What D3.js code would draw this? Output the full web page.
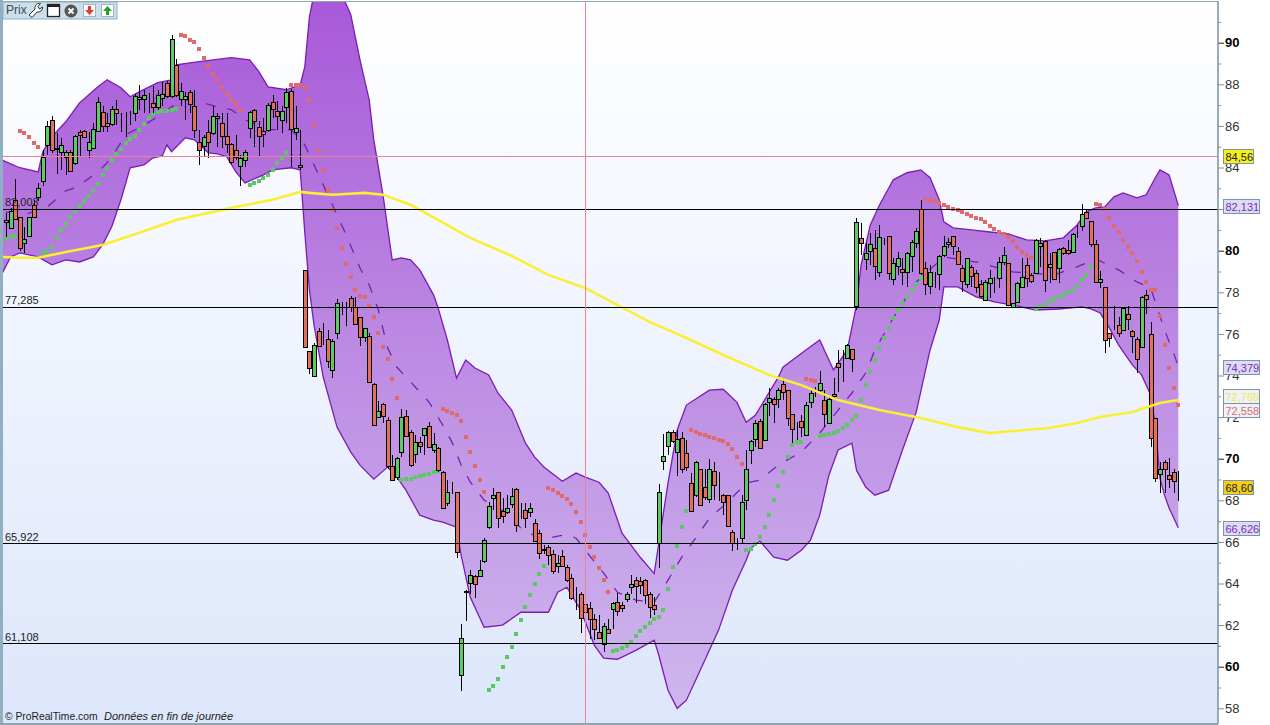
<!DOCTYPE html>
<html>
<head>
<meta charset="utf-8">
<style>
  html, body { margin: 0; padding: 0; background: #fff; }
  svg { display: block; font-family: "Liberation Sans", Arial, sans-serif; }
</style>
</head>
<body>
<svg width="1270" height="725"></svg>
<script src="https://cdn.jsdelivr.net/npm/d3@7"></script>
<script>
// daily candles
const opens = [81.43,81.08,82.40,81.56,80.31,80.63,82.16,82.52,83.28,85.07,
  86.25,84.91,84.67,84.48,84.72,84.16,85.64,85.70,84.83,84.91,
  85.72,86.61,86.09,86.02,86.76,86.44,86.44,86.05,86.57,87.21,
  87.24,86.92,87.05,86.84,87.30,88.01,87.37,88.88,87.24,87.21,
  87.59,86.89,85.20,84.99,85.64,85.65,86.42,86.09,85.48,85.07,
  84.77,84.05,84.35,85.84,86.71,85.92,85.73,85.76,87.08,86.69,
  86.28,86.82,87.64,85.67,84.05,79.03,75.11,73.90,76.09,75.95,
  75.69,74.19,75.97,77.31,77.02,77.68,77.26,76.77,75.79,75.85,
  73.54,71.94,72.56,71.79,69.60,69.05,70.24,72.00,71.22,70.21,
  70.74,71.07,71.52,70.35,70.45,69.32,67.84,68.60,68.33,59.57,
  63.59,63.98,64.32,64.32,64.99,66.67,68.07,68.36,67.44,67.36,
  67.76,68.50,67.23,67.49,67.36,66.88,66.40,65.61,65.73,65.39,
  64.80,65.29,64.75,64.24,62.98,63.47,62.98,62.79,62.26,61.64,
  61.06,61.78,62.73,63.08,62.94,63.21,63.80,64.14,64.06,64.14,
  63.45,62.90,65.90,69.81,70.54,71.22,70.30,70.93,70.21,68.79,
  68.17,69.48,68.60,67.99,69.34,68.70,68.23,68.23,66.41,65.99,
  66.15,68.00,70.33,70.88,71.76,70.83,72.66,72.81,72.81,73.53,
  73.25,72.08,71.43,71.76,71.10,72.66,73.17,73.22,72.77,71.65,
  73.05,74.54,74.67,74.83,75.23,77.27,80.54,79.59,79.91,80.07,
  78.92,80.39,80.65,78.63,79.24,79.06,78.92,79.67,80.35,81.95,
  79.14,78.28,78.74,78.81,79.77,80.27,80.65,79.94,79.11,78.34,
  79.16,78.90,78.34,77.59,78.39,78.52,78.63,79.40,79.35,77.23,
  77.51,78.23,79.27,78.77,78.90,80.15,80.44,79.14,79.88,79.11,
  80.07,79.99,79.88,80.76,81.12,81.81,81.40,80.27,78.44,78.20,
  75.98,76.54,76.40,76.11,76.93,76.08,75.73,75.34,77.84,75.93,
  71.89,69.25,69.77,69.15,69.33,68.57];
const closes = [81.34,81.88,81.51,80.07,80.50,81.56,81.56,82.96,84.45,85.96,
  84.83,84.87,85.03,84.71,83.81,85.48,85.48,85.41,85.20,85.80,
  87.11,85.92,85.96,86.76,86.57,86.44,86.44,86.05,87.37,87.32,
  87.43,86.92,86.86,87.42,87.48,87.37,90.13,87.42,87.61,87.37,
  87.00,85.76,84.80,85.44,85.15,86.45,86.33,85.48,85.09,84.19,
  84.45,84.43,84.72,86.60,86.18,85.48,85.60,86.98,86.73,86.44,
  86.69,87.56,85.80,85.86,83.97,75.34,74.30,75.40,75.39,75.95,
  74.62,75.60,77.42,77.31,77.02,77.25,76.43,75.79,76.22,73.64,
  71.55,72.23,71.97,69.56,68.91,69.97,71.94,71.06,69.61,70.77,
  70.56,71.41,70.50,70.64,69.40,67.60,68.36,68.60,65.44,61.35,
  63.53,64.36,63.95,64.62,66.02,67.70,68.21,67.12,67.19,67.56,
  68.16,66.79,67.23,67.12,67.56,66.00,65.44,65.55,65.34,64.56,
  64.96,64.80,64.14,63.30,62.98,62.34,62.58,62.28,61.77,61.35,
  61.93,61.57,63.02,62.63,62.78,63.47,63.93,63.87,63.85,63.43,
  62.82,62.70,68.33,70.06,71.22,70.77,70.91,69.44,69.52,67.42,
  69.77,67.75,68.12,69.44,68.67,68.70,67.90,66.73,65.88,65.99,
  67.88,69.48,70.78,71.65,70.48,72.56,72.85,72.56,73.24,73.14,
  71.89,71.36,71.43,71.46,72.52,73.11,73.17,73.57,72.08,72.80,
  72.93,74.33,74.67,75.44,74.73,81.32,80.31,79.86,80.27,79.22,
  80.60,80.39,78.87,79.38,79.62,78.92,79.83,80.36,80.92,78.87,
  78.39,78.95,78.74,79.69,80.19,80.36,80.15,79.33,78.49,79.58,
  78.71,78.23,77.75,78.45,78.63,78.52,79.40,79.74,77.35,77.43,
  78.42,78.71,78.63,78.47,80.47,80.31,78.55,79.30,78.58,80.03,
  79.83,79.83,80.75,80.76,81.71,81.52,80.31,78.44,78.58,75.66,
  75.76,76.54,76.03,77.19,76.70,75.85,74.78,77.75,77.67,70.93,
  69.01,69.47,69.44,68.96,68.91,68.57];
const highs = [81.75,81.99,83.41,81.59,81.11,81.59,82.40,83.20,84.77,86.17,
  86.41,85.60,85.36,84.80,84.80,85.52,85.76,85.76,85.68,86.09,
  87.32,86.89,86.57,86.92,87.21,86.57,86.60,86.65,87.48,87.93,
  87.69,87.53,87.88,87.69,88.04,88.09,90.34,89.17,88.01,87.56,
  87.69,87.69,85.76,85.52,86.25,86.89,86.57,86.57,86.57,85.12,
  85.52,84.56,84.80,86.65,86.76,86.17,86.33,87.05,87.45,87.13,
  86.89,87.77,87.72,86.89,85.76,79.03,75.11,75.50,76.22,76.46,
  76.14,75.69,77.62,77.50,77.50,77.78,77.71,76.78,76.22,76.01,
  73.61,72.72,72.61,71.94,70.13,70.05,72.32,72.29,71.33,71.09,
  71.01,71.41,71.70,71.17,70.53,69.36,68.92,68.84,68.36,61.99,
  63.63,64.62,64.35,65.10,66.16,67.88,68.52,68.36,68.04,68.20,
  68.52,68.52,67.80,67.80,67.84,67.07,66.51,65.79,65.79,65.55,
  65.31,65.55,64.83,64.43,63.79,63.55,63.14,63.06,62.50,62.42,
  62.05,62.26,63.06,63.50,63.06,63.55,64.38,64.27,64.27,64.19,
  63.55,63.30,68.73,71.14,71.30,71.33,71.33,71.25,70.85,69.28,
  69.85,69.48,69.48,69.93,69.81,69.32,68.25,68.23,66.52,66.12,
  68.20,70.37,70.85,71.81,71.84,72.61,73.37,72.93,73.33,73.82,
  73.25,72.10,71.73,72.05,72.69,73.25,73.41,74.17,73.25,72.90,
  73.85,75.18,75.18,75.47,75.23,81.52,81.28,80.31,80.79,80.96,
  81.20,80.55,80.67,79.59,79.91,79.59,79.91,80.47,81.04,82.40,
  79.43,79.27,78.95,79.75,80.67,80.55,80.67,80.15,79.27,79.59,
  79.27,79.03,78.55,78.55,79.03,78.68,79.67,80.15,79.35,77.43,
  78.47,79.59,79.59,78.90,80.51,80.55,80.47,79.83,79.91,80.07,
  80.12,80.47,80.79,81.20,82.21,81.92,81.40,80.47,78.98,78.20,
  75.98,77.27,76.78,77.23,77.27,76.14,75.82,77.78,78.07,76.51,
  71.92,69.81,69.89,69.97,69.44,69.37];
const lows = [80.60,81.03,81.43,79.96,79.83,80.60,81.51,82.32,83.04,84.56,
  84.64,83.65,83.84,83.60,83.76,84.08,84.48,85.36,84.40,84.88,
  85.68,85.68,85.64,85.96,86.00,85.68,85.44,86.00,86.17,86.73,
  86.57,86.57,86.57,86.73,86.89,87.29,87.29,87.34,86.89,86.25,
  86.57,85.36,84.08,84.48,84.40,85.52,84.96,84.88,84.64,84.13,
  84.32,83.07,84.00,85.36,84.96,84.48,84.96,85.68,86.33,85.76,
  85.60,86.09,84.00,85.28,83.84,75.31,74.02,73.90,75.34,75.42,
  74.33,73.85,75.72,76.86,76.35,77.02,76.38,75.39,75.58,73.61,
  71.52,71.89,71.68,69.48,68.89,68.92,70.05,71.01,69.56,69.73,
  70.24,70.13,70.45,70.21,69.32,67.55,67.67,68.25,65.18,58.78,
  62.15,63.43,63.24,64.32,64.94,66.59,67.48,66.64,66.88,67.31,
  67.60,66.43,67.07,66.64,67.15,65.95,65.15,65.39,64.83,64.40,
  64.46,64.75,64.03,63.18,62.66,61.57,62.18,61.30,61.22,61.30,
  60.66,61.54,61.78,62.37,62.58,63.06,63.43,63.02,63.47,62.98,
  62.29,62.42,64.70,69.40,70.13,70.69,69.13,69.28,69.37,67.40,
  68.12,67.72,67.96,67.83,67.96,67.91,67.24,66.71,65.52,65.55,
  65.84,67.48,69.69,70.53,70.45,70.82,72.00,71.68,72.37,72.77,
  71.52,70.72,70.85,71.01,71.04,72.37,72.93,73.09,71.49,71.65,
  72.77,73.14,73.65,74.78,74.14,77.11,79.75,79.03,79.27,78.55,
  78.71,80.23,78.55,78.31,78.79,78.31,78.23,78.95,80.07,78.79,
  77.83,77.88,78.15,78.07,79.67,80.07,79.75,79.27,77.99,78.15,
  78.23,77.91,77.67,77.51,77.67,77.91,78.15,79.27,77.27,77.23,
  77.43,78.15,78.23,78.39,78.87,79.19,77.99,78.39,78.55,78.39,
  79.75,79.75,79.83,80.55,80.88,81.52,80.15,78.39,78.18,75.05,
  75.34,76.14,75.82,76.08,76.14,75.02,74.06,75.31,76.91,70.53,
  68.84,68.28,68.28,68.52,68.28,67.93];

// parabolic SAR, one dot per day; sarFlips are the days where it changes side
const sarValues = [80.50,80.60,80.66,
  85.73,85.60,85.40,85.15,84.96,
  79.83,79.96,80.15,80.60,80.95,81.24,81.59,81.88,82.11,82.36,82.60,82.84,83.15,83.57,83.95,
  84.29,84.61,84.85,85.15,85.32,85.48,85.76,86.05,86.33,86.54,86.60,86.65,86.68,86.73,86.76,
  90.34,90.29,90.10,89.97,89.66,89.23,88.84,88.46,88.14,87.80,87.48,87.21,87.02,86.73,
  null,
  83.12,83.20,83.28,83.44,83.60,83.84,84.16,84.40,84.64,
  87.93,87.93,87.93,87.77,87.21,86.01,84.80,83.84,82.88,81.92,81.05,80.09,
  79.29,78.68,78.07,77.79,77.75,77.31,76.78,76.01,75.34,74.73,73.80,72.85,
  68.92,68.96,69.00,69.08,69.12,69.16,69.24,69.32,69.37,
  72.34,72.26,72.16,72.07,71.76,70.99,70.29,69.60,68.92,68.35,
  58.81,59.01,59.34,59.92,60.40,60.90,61.52,62.18,62.82,63.38,63.91,64.40,64.78,
  68.55,68.44,68.29,68.15,68.00,67.78,67.39,66.90,66.27,65.71,65.21,64.68,64.12,63.53,
  60.69,60.74,60.83,60.96,61.12,61.41,61.67,61.85,62.04,62.23,62.34,62.66,63.67,64.73,65.76,66.66,67.43,
  71.33,71.23,71.14,71.09,70.99,70.93,70.85,70.80,70.66,70.41,70.03,69.69,
  65.55,65.63,65.84,66.18,66.66,67.24,67.96,68.63,69.31,70.03,70.61,70.75,70.77,
  73.78,73.73,73.69,
  71.04,71.09,71.14,71.19,71.30,71.41,71.57,71.81,72.00,72.77,73.49,74.12,74.70,75.28,75.76,76.24,76.70,77.11,77.43,77.72,78.04,78.34,78.63,
  82.43,82.40,82.32,82.24,82.13,82.06,81.98,81.89,81.82,81.74,81.63,81.53,81.47,81.34,81.16,80.99,80.86,80.76,80.63,80.43,80.15,79.91,79.75,79.59,
  77.14,77.24,77.35,77.51,77.63,77.75,77.84,77.96,78.07,78.26,78.52,78.79,79.16,
  82.21,82.13,81.97,81.53,81.15,80.83,80.47,80.15,79.86,79.48,78.95,78.47,78.07,78.07,76.82,75.44,74.33,73.35,72.53];
const sarFlips = [3,8,38,53,62,86,95,105,118,132,149,161,174,177,200,224,237];

// bollinger bands
const upperDays = [-1,3,7,8,10,13,16,20,22,25,27,29,33,36,37,42,49,53,55,57,61,64,65,66,67,70,73,75,77,79,80,82,84,86,88,90,93,94,96,98,100,102,105,107,110,113,115,117,121,124,126,129,131,134,138,141,142,144,146,148,153,156,159,161,163,168,169,174,177,180,183,185,186,188,190,193,196,199,201,203,204,206,210,214,218,222,226,230,233,235,237,239,241,243,246,248,250,251,253,255];
const upperBand = [84.32,83.94,83.74,84.71,85.43,86.15,87.06,87.83,88.17,87.79,87.35,87.59,88.03,88.17,88.89,89.04,89.23,89.13,88.56,87.83,87.69,87.93,88.80,91.20,92.30,93.00,92.30,91.30,89.13,87.20,85.28,82.64,79.51,79.61,79.51,79.03,77.83,77.20,75.66,73.83,74.70,74.31,73.98,73.11,72.29,70.70,70.03,69.55,68.87,69.26,69.07,68.82,68.30,66.37,65.20,64.43,65.90,68.78,71.33,72.53,73.25,73.29,72.66,71.70,72.04,73.87,74.35,75.18,75.66,74.22,75.18,77.34,79.27,81.19,82.15,83.36,83.70,83.84,83.46,82.40,81.34,81.05,80.95,80.85,80.76,80.47,80.42,80.57,81.19,81.82,82.01,82.06,82.54,82.73,82.49,82.64,83.46,83.84,83.60,82.13];
const lowerDays = [-1,1,3,7,10,13,16,19,21,23,25,27,30,32,34,35,36,39,41,44,46,48,50,52,56,58,62,64,65,66,67,69,72,75,77,80,83,85,87,90,93,95,98,99,101,104,108,112,118,120,122,125,128,130,133,137,141,142,144,146,148,150,152,155,158,160,161,162,164,167,170,173,175,177,179,181,184,185,187,189,192,195,198,201,203,204,207,211,215,219,224,229,234,236,238,240,242,245,247,249,250,251,252,253,255];
const lowerBand = [78.79,79.65,79.85,79.65,79.27,79.51,79.41,79.65,80.23,81.10,82.40,83.94,84.08,84.42,84.51,85.04,84.71,85.38,85.28,84.66,84.61,84.47,83.74,83.21,83.60,83.84,83.94,83.84,80.81,78.07,76.38,73.88,71.47,70.27,69.64,68.97,69.55,69.07,68.44,67.24,67.00,66.90,66.66,65.31,63.29,61.85,61.95,62.57,62.57,63.53,63.77,62.67,60.98,60.36,60.31,60.74,61.23,60.50,58.82,57.95,58.34,59.30,60.26,61.71,63.63,64.59,65.07,65.65,65.99,65.22,65.07,65.55,66.04,67.24,69.16,70.37,70.70,69.40,68.59,68.20,68.44,70.37,72.20,75.18,76.62,78.21,78.21,77.73,77.49,77.34,77.10,77.15,77.25,77.15,76.96,76.24,75.42,74.46,73.98,73.01,71.57,69.02,68.20,67.58,66.63];
const midDays = [0,4,9,13,15,17,20,22,24,26,29,33,36,39,43,46,49,52,57,62,65,68,71,74,77,79,81,83,85,88,92,95,97,99,101,104,109,112,116,119,122,124,126,130,133,137,141,144,147,150,153,157,161,164,168,173,177,181,184,187,189,193,198,204,212,215,219,228,233,237,242,246,249,252,254,255];
const midBand = [81.82,81.68,82.06,82.83,82.97,83.26,83.74,84.18,84.80,85.53,85.86,86.39,86.87,87.21,87.06,86.87,86.73,86.25,85.77,85.77,85.04,83.60,82.16,80.71,79.12,78.31,77.10,75.28,74.36,73.64,72.68,71.57,70.75,69.65,68.83,67.96,67.34,66.61,66.13,66.18,66.32,66.13,65.55,64.45,63.53,63.15,63.05,64.11,65.22,66.13,67.09,67.87,68.78,68.92,69.65,70.27,71.18,72.29,73.11,74.07,75.18,76.72,78.45,79.65,79.37,79.17,78.93,78.79,79.17,79.56,79.03,78.45,78.16,76.14,75.03,74.38];

// long moving average (yellow)
const maDays = [-1,3,7,13,21,29,37,49,58,64,66,71,78,82,88,94,101,110,118,126,131,140,149,157,166,173,181,190,199,207,214,219,227,233,238,245,251,255];
const maValues = [79.65,79.61,79.61,79.89,80.23,80.81,81.43,82.01,82.40,82.78,82.73,82.64,82.73,82.64,82.16,81.43,80.57,79.70,78.79,78.16,77.58,76.53,75.66,74.84,73.98,73.49,72.77,72.29,71.91,71.47,71.18,71.28,71.43,71.67,71.96,72.20,72.63,72.77];

// support / resistance lines and the crosshair
const levels = [82.003, 77.285, 65.922, 61.108];
const crossPrice = 84.56;
const crossDay = 126;

// price tags on the axis; shift is only there so the two middle ones do not collide
const tagValues = [84.56, 82.131, 74.379, 72.765, 72.558, 68.60, 66.626];
const tagText = ['84,56', '82,131', '74,379', '72,765', '72,558', '68,60', '66,626'];
const tagFill = ['#f5f11e', '#dcdcf5', '#dcdcf5', '#eef0fa', '#eef0fa', '#f2cf1a', '#dcdcf5'];
const tagInk = ['#222', '#7a2fb8', '#7a2fb8', '#f2ee3c', '#dd6f6a', '#222', '#7a2fb8'];
const tagShift = [1, 0, 0, -5, 5, 0, 0];

const priceTicks = d3.range(58, 92);
const boldTicks = [60, 70, 80, 90];
// 82 sits fully under its tag in the reference
const hiddenTicks = [82];

const svg = d3.select('svg');
const plot = { left: 3, right: 1218, top: 2, bottom: 723 };

const x = d3.scaleLinear().domain([0, 255]).range([6, 1178.3]);
const y = d3.scaleLinear().domain([90, 58]).range([42.7, 708.3]);
const crisp = v => Math.round(v) + 0.5;
const floorCrisp = v => Math.floor(v) + 0.5;

const defs = svg.append('defs');
const bg = defs.append('linearGradient').attr('id', 'bg').attr('x1', 0).attr('x2', 0).attr('y1', 0).attr('y2', 1);
bg.append('stop').attr('offset', 0).attr('stop-color', '#ffffff');
bg.append('stop').attr('offset', 1).attr('stop-color', '#dde6fb');
const bandFill = defs.append('linearGradient').attr('id', 'bandFill')
  .attr('gradientUnits', 'userSpaceOnUse').attr('x1', 0).attr('x2', 0).attr('y1', 0).attr('y2', 725);
bandFill.append('stop').attr('offset', 0).attr('stop-color', '#a859d8');
bandFill.append('stop').attr('offset', 0.5).attr('stop-color', '#bd8ce3');
bandFill.append('stop').attr('offset', 1).attr('stop-color', '#cfb8ee');
defs.append('clipPath').attr('id', 'plotClip').append('rect')
  .attr('x', plot.left).attr('y', plot.top)
  .attr('width', plot.right - plot.left).attr('height', plot.bottom - plot.top);

// frame and background
svg.append('rect')
  .attr('x', plot.left).attr('y', plot.top)
  .attr('width', plot.right - plot.left).attr('height', plot.bottom - plot.top)
  .attr('fill', 'url(#bg)');
svg.append('rect').attr('x', 0).attr('y', 0).attr('width', 3).attr('height', 725).attr('fill', '#8fb0c2');
svg.append('rect').attr('x', 0).attr('y', 1).attr('width', plot.right).attr('height', 1).attr('fill', '#8fa5b2');
svg.append('rect').attr('x', 0).attr('y', 723).attr('width', plot.right).attr('height', 2).attr('fill', '#8fa5b2');

const chart = svg.append('g').attr('clip-path', 'url(#plotClip)');
// marks were read about 1px high against the axis
const marks = chart.append('g').attr('transform', 'translate(0,-1)');

// band
const toPoints = (days, vals) => days.map((d, i) => [d, vals[i]]);
const line = d3.line().x(d => x(d[0])).y(d => y(d[1]));
const upperPts = toPoints(upperDays, upperBand);
const lowerPts = toPoints(lowerDays, lowerBand);

marks.append('path')
  .attr('d', line(upperPts.concat(lowerPts.slice().reverse())) + 'Z')
  .attr('fill', 'url(#bandFill)');
marks.append('path').attr('d', line(upperPts)).attr('fill', 'none').attr('stroke', '#7a1cb5').attr('stroke-width', 1.3);
marks.append('path').attr('d', line(lowerPts)).attr('fill', 'none').attr('stroke', '#7a1cb5').attr('stroke-width', 1.3);
marks.append('path')
  .attr('d', line(toPoints(midDays, midBand)))
  .attr('fill', 'none').attr('stroke', '#7423b0').attr('stroke-width', 1.3)
  .attr('stroke-dasharray', '10 12');

// SAR dots
const sar = sarValues.map((v, i) => ({ day: i, value: v })).filter(d => d.value !== null);
marks.selectAll('rect.sar')
  .data(sar)
  .enter()
  .append('rect')
    .attr('class', 'sar')
    .attr('x', d => Math.round(x(d.day)) - 2)
    .attr('y', d => Math.round(y(d.value)) - 2)
    .attr('width', 4)
    .attr('height', 4)
    .attr('fill', d => d3.bisectRight(sarFlips, d.day) % 2 ? '#e2696b' : '#5cc863');

// candles
const candles = opens.map((o, i) => ({ day: i, open: o, close: closes[i], high: highs[i], low: lows[i] }));
const candle = marks.selectAll('g.candle')
  .data(candles)
  .enter()
  .append('g')
    .attr('class', 'candle')
    .attr('shape-rendering', 'crispEdges');

candle.append('line')
  .attr('x1', d => crisp(x(d.day)))
  .attr('x2', d => crisp(x(d.day)))
  .attr('y1', d => y(d.high))
  .attr('y2', d => y(d.low))
  .attr('stroke', '#000')
  .attr('stroke-width', 1);

candle.append('rect')
  .attr('x', d => crisp(x(d.day)) - 2)
  .attr('y', d => crisp(y(Math.max(d.open, d.close))))
  .attr('width', 4)
  .attr('height', d => Math.round(Math.abs(y(d.open) - y(d.close))))
  .attr('fill', d => d.close >= d.open ? '#5ccb63' : '#e56f5e')
  .attr('stroke', '#000')
  .attr('stroke-width', 1);

// moving average
marks.append('path')
  .attr('d', line(toPoints(maDays, maValues)))
  .attr('fill', 'none').attr('stroke', '#f9f036').attr('stroke-width', 2.6);

// horizontal levels
chart.selectAll('line.level')
  .data(levels)
  .enter()
  .append('line')
    .attr('class', 'level')
    .attr('x1', plot.left)
    .attr('x2', plot.right)
    .attr('y1', d => floorCrisp(y(d)))
    .attr('y2', d => floorCrisp(y(d)))
    .attr('stroke', '#000')
    .attr('stroke-width', 1);

chart.selectAll('text.level')
  .data(levels)
  .enter()
  .append('text')
    .attr('class', 'level')
    .attr('x', 5)
    .attr('y', d => y(d) - 3)
    .attr('font-size', 11)
    .attr('fill', '#222')
    .text(d => d3.format('.3f')(d).replace('.', ','));

// crosshair
chart.append('line')
  .attr('x1', plot.left).attr('x2', plot.right)
  .attr('y1', crisp(y(crossPrice))).attr('y2', crisp(y(crossPrice)))
  .attr('stroke', '#f2808f');
chart.append('line')
  .attr('x1', crisp(x(crossDay))).attr('x2', crisp(x(crossDay)))
  .attr('y1', plot.top).attr('y2', plot.bottom)
  .attr('stroke', '#f2808f');

// price axis
const axis = svg.append('g')
  .attr('transform', `translate(${plot.right},0)`)
  .call(d3.axisRight(y)
    .tickValues(priceTicks)
    .tickSizeOuter(0)
    .tickFormat(d => d % 2 === 0 && !hiddenTicks.includes(d) ? d : ''));
axis.select('.domain').remove();
axis.selectAll('.tick line')
  .attr('x2', d => d % 2 === 0 ? 6 : 3)
  .attr('stroke', d => boldTicks.includes(d) ? '#222' : '#7d8f9b');
axis.selectAll('.tick text')
  .attr('x', 7)
  .attr('font-family', '"Liberation Sans", Arial, sans-serif')
  .attr('font-size', 13)
  .attr('font-weight', d => boldTicks.includes(d) ? 'bold' : 'normal')
  .attr('fill', d => boldTicks.includes(d) ? '#000' : '#333');
svg.append('line')
  .attr('x1', plot.right).attr('x2', plot.right)
  .attr('y1', 1).attr('y2', 724)
  .attr('stroke', '#7d8f9b').attr('stroke-width', 1.5);

// price tags
const tag = svg.selectAll('g.tag')
  .data(tagValues)
  .enter()
  .append('g')
    .attr('class', 'tag')
    .attr('transform', (d, i) => `translate(1223.5,${floorCrisp(y(d) + tagShift[i])})`);
tag.append('rect')
  .attr('x', 0).attr('y', -7)
  .attr('width', (d, i) => tagText[i].length === 5 ? 30 : 36)
  .attr('height', 14)
  .attr('fill', (d, i) => tagFill[i])
  .attr('stroke', '#7d93a6');
tag.append('text')
  .attr('x', 2).attr('y', 4)
  .attr('font-size', 11)
  .attr('fill', (d, i) => tagInk[i])
  .text((d, i) => tagText[i]);

// toolbar
const bar = svg.append('g');
bar.append('rect').attr('x', 3).attr('y', 2).attr('width', 114).attr('height', 17)
  .attr('fill', '#cbdfeb').attr('stroke', '#8fb0c2');
bar.append('text').attr('x', 6).attr('y', 14).attr('font-size', 12).attr('fill', '#3c4a55').text('Prix');
// wrench
bar.append('path').attr('d', 'M29 15 L35 9 A4.5 4.5 0 0 1 40.5 3.5 L38 6.5 L39.5 9 L42.5 7 A4.5 4.5 0 0 1 37 12 L32 17.5 Z')
  .attr('fill', '#fff').attr('stroke', '#333').attr('stroke-width', 1);
// window
bar.append('rect').attr('x', 47.5).attr('y', 4.5).attr('width', 12).attr('height', 12)
  .attr('fill', '#fff').attr('stroke', '#222').attr('stroke-width', 1.3);
bar.append('rect').attr('x', 47.5).attr('y', 4.5).attr('width', 12).attr('height', 2.5).attr('fill', '#222');
// close
bar.append('circle').attr('cx', 71).attr('cy', 11).attr('r', 6.5).attr('fill', '#555');
bar.append('path').attr('d', 'M68.5 8.5 L73.5 13.5 M73.5 8.5 L68.5 13.5').attr('stroke', '#fff').attr('stroke-width', 2);
// down / up arrows
bar.append('rect').attr('x', 83.5).attr('y', 4.5).attr('width', 12).attr('height', 12).attr('fill', '#fff').attr('stroke', '#9db5c4');
bar.append('path').attr('d', 'M88 6 h3 v4 h3 l-4.5 5 l-4.5 -5 h3 Z').attr('fill', '#e33b35');
bar.append('rect').attr('x', 101.5).attr('y', 4.5).attr('width', 12).attr('height', 12).attr('fill', '#fff').attr('stroke', '#9db5c4');
bar.append('path').attr('d', 'M106 15 h3 v-4 h3 l-4.5 -5 l-4.5 5 h3 Z').attr('fill', '#1fa32a');

// footer
svg.append('text').attr('x', 5).attr('y', 720).attr('font-size', 10.3).attr('fill', '#222').text('© ProRealTime.com');
svg.append('text').attr('x', 104).attr('y', 720).attr('font-size', 11).attr('font-style', 'italic').attr('fill', '#222').text('Données en fin de journée');
</script>
</body>
</html>
